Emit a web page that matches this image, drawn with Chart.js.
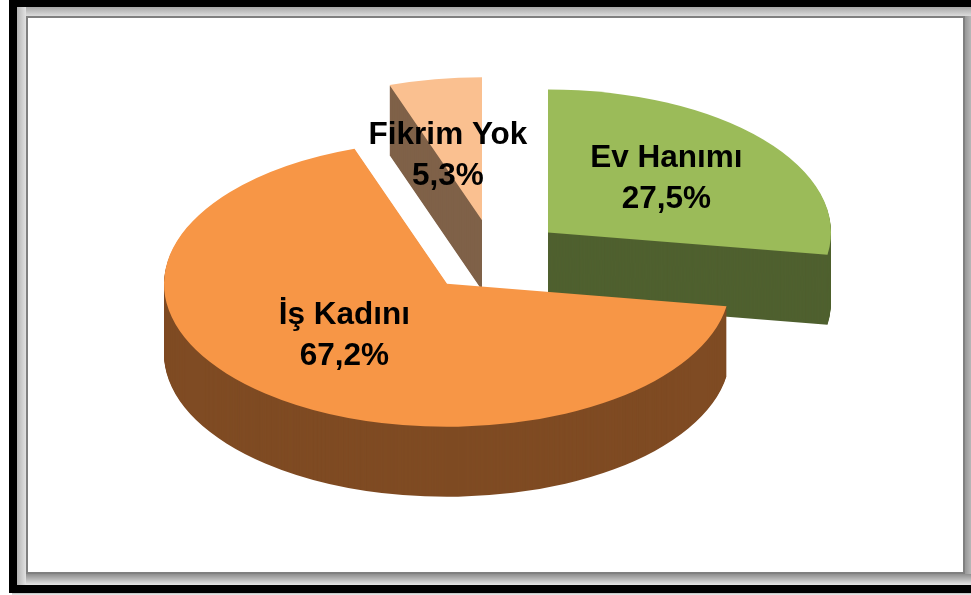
<!DOCTYPE html>
<html>
<head>
<meta charset="utf-8">
<style>
  html, body { margin: 0; padding: 0; background: #fff; overflow: hidden; }
  #stage { position: relative; width: 971px; height: 595px; }
  .band { position: absolute; }
  #blackTop { left: 9px; top: 0; width: 962px; height: 7px; background: #000; }
  #blackLeft { left: 9px; top: 0; width: 8px; height: 593px; background: #000; }
  #blackBottom { left: 9px; top: 585px; width: 962px; height: 8px; background: #000; }
  #under { left: 12px; top: 593px; width: 959px; height: 2px; background: linear-gradient(#bbb, #eee); }
  #shadeTop { left: 17px; top: 7px; width: 954px; height: 9px; background: linear-gradient(#a8a8a8, #dcdcdc); }
  #shadeLeft { left: 17px; top: 7px; width: 9px; height: 578px; background: linear-gradient(90deg, #b4b4b4, #e2e2e2); }
  #shadeBottom { left: 26px; top: 574px; width: 945px; height: 11px; background: linear-gradient(#8e8e8e, #e6e6e6); }
  #shadeRight { left: 963px; top: 16px; width: 8px; height: 569px; background: linear-gradient(90deg, #8c8c8c, #b8b8b8); }
  #panel { left: 26px; top: 16px; background: #fff; border: 2px solid #808080; width: 935px; height: 554px; }
  canvas { position: absolute; left: 0; top: 0; }
</style>
</head>
<body>
<div id="stage">
  <div class="band" id="blackTop"></div>
  <div class="band" id="blackLeft"></div>
  <div class="band" id="under"></div>
  <div class="band" id="shadeTop"></div>
  <div class="band" id="shadeLeft"></div>
  <div class="band" id="shadeRight"></div>
  <div class="band" id="shadeBottom"></div>
  <div class="band" id="blackBottom"></div>
  <div class="band" id="panel"></div>
  <canvas id="chart" width="971" height="595"></canvas>
</div>
<script src="https://cdn.jsdelivr.net/npm/chart.js@4"></script>
<script>
const categories = ['Ev Hanımı', 'İş Kadını', 'Fikrim Yok'];
const shares = [27.5, 67.2, 5.3];
const topColors = ['#9BBB59', '#F79646', '#FAC090'];
const wallColors = ['#4F602F', '#7F4B23', '#7F6148'];

// the look of the 3D pie
const TILT = 0.505;     // vertical squash of the disc
const DEPTH = 70;       // wall height in px
const EXPLODE = 72;     // how far each slice is pulled out
const DRAW_ORDER = [2, 0, 1]; // back to front

// label: distance along the slice as share of radius, then a small nudge
const LABEL_FRACTION = [0.57, 0.5, 0.45];
const LABEL_NUDGE = [[-4.5, -6], [-12, -9], [-12.5, -7]];
const LINE_GAP = 41;

function formatShare(v) {
  return v.toFixed(1).replace('.', ',') + '%';
}

// moves the context into the squashed, exploded frame of one slice
// x is rounded so the vertical cut edges stay crisp and walls do not peek out
function sliceFrame(ctx, arc, drop) {
  const mid = (arc.startAngle + arc.endAngle) / 2;
  ctx.translate(Math.round(arc.x + Math.cos(mid) * EXPLODE), arc.y + Math.sin(mid) * EXPLODE * TILT + drop);
  ctx.scale(1, TILT);
  ctx.translate(-arc.x, -arc.y);
}

const pie3d = {
  id: 'pie3d',
  beforeDatasetsDraw(chart) {
    const ctx = chart.ctx;
    const arcs = chart.getDatasetMeta(0).data;

    DRAW_ORDER.forEach(i => {
      const arc = arcs[i];
      const base = arc.options;

      // wall: the same slice stacked down to the floor
      arc.options = Object.assign({}, base, { backgroundColor: wallColors[i], borderWidth: 0 });
      for (let d = DEPTH; d > 0; d -= 1) {
        ctx.save();
        sliceFrame(ctx, arc, d);
        arc.draw(ctx);
        ctx.restore();
      }
      arc.options = base;

      ctx.save();
      sliceFrame(ctx, arc, 0);
      arc.draw(ctx);
      ctx.restore();
    });

    // labels on top of everything
    ctx.save();
    ctx.font = 'bold 31.5px "Liberation Sans", Arial, sans-serif';
    ctx.fillStyle = '#000';
    ctx.textAlign = 'center';
    ctx.textBaseline = 'alphabetic';
    arcs.forEach((arc, i) => {
      const mid = (arc.startAngle + arc.endAngle) / 2;
      const r = arc.outerRadius * LABEL_FRACTION[i];
      const x = arc.x + Math.cos(mid) * (EXPLODE + r) + LABEL_NUDGE[i][0];
      const y = arc.y + Math.sin(mid) * (EXPLODE + r) * TILT + LABEL_NUDGE[i][1];
      ctx.fillText(categories[i], x, y - 6);
      ctx.fillText(formatShare(shares[i]), x, y - 6 + LINE_GAP);
    });
    ctx.restore();

    return false; // the default flat drawing is not wanted
  }
};

new Chart(document.getElementById('chart'), {
  type: 'pie',
  data: {
    labels: categories,
    datasets: [{
      data: shares,
      backgroundColor: topColors,
      borderWidth: 0,
      hoverOffset: 0
    }]
  },
  options: {
    responsive: false,
    animation: false,
    radius: 283,
    layout: { padding: { left: 16, right: 0, top: 0, bottom: 83 } },
    plugins: { legend: { display: false }, tooltip: { enabled: false } },
    events: []
  },
  plugins: [pie3d]
});
</script>
</body>
</html>
